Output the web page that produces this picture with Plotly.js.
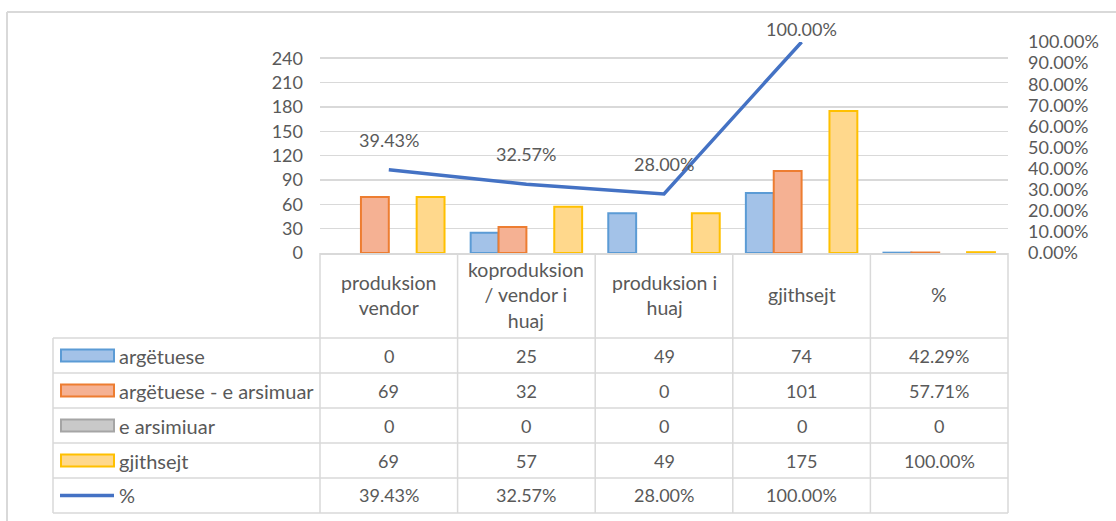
<!DOCTYPE html>
<html>
<head>
<meta charset="utf-8">
<script src="https://cdn.plot.ly/plotly-3.0.1.min.js"></script>
<style>html,body{margin:0;padding:0;background:#fff;}#chart{width:1116px;height:521px;}</style>
</head>
<body>
<div id="chart"></div>
<script>
// ---- data ----
const categories = ['produksion vendor', 'koproduksion / vendor i huaj', 'produksion i huaj', 'gjithsejt', '%'];
const categoryLabels = ['produksion<br>vendor', 'koproduksion<br>/ vendor i<br>huaj', 'produksion i<br>huaj', 'gjithsejt', '%'];
const seriesNames = ['argëtuese', 'argëtuese - e arsimuar', 'e arsimiuar', 'gjithsejt'];
const argetuese = [0, 25, 49, 74, 0.4229];
const argetueseArsimuar = [69, 32, 0, 101, 0.5771];
const eArsimiuar = [0, 0, 0, 0, 0];
const gjithsejt = [69, 57, 49, 175, 1.0];
const lineName = '%';
const percent = [0.3943, 0.3257, 0.28, 1.0, null];
const leftTicks = [0, 30, 60, 90, 120, 150, 180, 210, 240];
const rightTicks = [0, 0.1, 0.2, 0.3, 0.4, 0.5, 0.6, 0.7, 0.8, 0.9, 1.0];

// ---- styling ----
const FONT = 'Lato, "Liberation Sans", Arial, sans-serif';
const TXT = '#595959';
const GRID = '#D9D9D9';
const NUM_SIZE = 18, WORD_SIZE = 20, HEAD_SIZE = 19.5;
const fills = ['#A3C2E8', '#F5B193', '#C9C9C9', '#FFD88C'];
const borders = ['#5B9BD5', '#ED7D31', '#A5A5A5', '#FFC000'];
const lineColor = '#4472C4';

const PL = 320, PT = 42, PW = 688, PH = 211;
const px2x = p => (p - PL) / PW;
const py2y = p => (PT + PH - p) / PH;

const seriesValues = [argetuese, argetueseArsimuar, eArsimiuar, gjithsejt];

const traces = seriesValues.map((vals, i) => ({
  type: 'bar', name: seriesNames[i], x: categories, y: vals,
  marker: {color: fills[i], line: {color: borders[i], width: vals.map(v => v === 0 ? 0 : 2)}},
  hoverinfo: 'skip'
}));
traces.push({
  type: 'scatter', mode: 'lines', name: lineName, x: categories, y: percent, yaxis: 'y2',
  line: {color: lineColor, width: 3.5}, connectgaps: false, hoverinfo: 'skip'
});

const fmtPct = v => (v * 100).toFixed(2) + '%';
const fmtCell = (v, col, isPct) => {
  if (v === null || v === undefined) return '';
  if (isPct || categories[col] === '%') return v === 0 ? '0' : fmtPct(v);
  return String(v);
};

const shapes = [];
const annotations = [];

// outer chart border (top/left)
shapes.push({type: 'line', xref: 'paper', yref: 'paper', x0: px2x(7), x1: px2x(1116), y0: py2y(12), y1: py2y(12), line: {color: GRID, width: 2}});
shapes.push({type: 'line', xref: 'paper', yref: 'paper', x0: px2x(7), x1: px2x(7), y0: py2y(12), y1: py2y(521), line: {color: GRID, width: 2}});

// line data labels
percent.forEach((v, i) => {
  if (v === null) return;
  const ptPx = PT + PH - v * PH;
  const shift = Math.min(30, ptPx - 29);
  annotations.push({x: categories[i], y: v, xref: 'x', yref: 'y2', text: fmtPct(v), showarrow: false,
    yanchor: 'middle', yshift: shift, font: {family: FONT, size: NUM_SIZE, color: TXT}});
});

// data table
const N = categories.length;
const tableLeft = 53, headerBottom = 338, rowH = 35;
const rowsCount = seriesNames.length + 1;
const tableBottom = headerBottom + rowH * rowsCount;
for (let k = 0; k <= N; k++) {
  shapes.push({type: 'line', xref: 'paper', yref: 'paper', x0: k / N, x1: k / N, y0: py2y(PT + PH), y1: py2y(tableBottom), line: {color: GRID, width: 1.5}});
}
shapes.push({type: 'line', xref: 'paper', yref: 'paper', x0: px2x(tableLeft), x1: px2x(tableLeft), y0: py2y(headerBottom), y1: py2y(tableBottom), line: {color: GRID, width: 1.5}});
for (let r = 0; r <= rowsCount; r++) {
  const y = headerBottom + r * rowH;
  shapes.push({type: 'line', xref: 'paper', yref: 'paper', x0: px2x(tableLeft), x1: 1, y0: py2y(y), y1: py2y(y), line: {color: GRID, width: 1.5}});
}
// header labels
categoryLabels.forEach((lab, i) => {
  annotations.push({x: categories[i], xref: 'x', y: py2y((PT + PH + headerBottom) / 2 - 1), yref: 'paper', text: lab, showarrow: false,
    yanchor: 'middle', xanchor: 'center', align: 'center', font: {family: FONT, size: HEAD_SIZE, color: TXT}});
});
// rows
const allRows = seriesValues.concat([percent]);
const allNames = seriesNames.concat([lineName]);
allRows.forEach((vals, r) => {
  const cy = headerBottom + r * rowH + rowH / 2;
  const isPctRow = r === seriesNames.length;
  if (!isPctRow) {
    shapes.push({type: 'rect', xref: 'paper', yref: 'paper', x0: px2x(61), x1: px2x(114), y0: py2y(cy - 6), y1: py2y(cy + 6),
      fillcolor: fills[r], line: {color: borders[r], width: 2}});
  } else {
    shapes.push({type: 'line', xref: 'paper', yref: 'paper', x0: px2x(60), x1: px2x(114), y0: py2y(cy), y1: py2y(cy),
      line: {color: lineColor, width: 3.5}});
  }
  annotations.push({x: px2x(117), xref: 'paper', y: py2y(cy), yref: 'paper', text: allNames[r], showarrow: false,
    xanchor: 'left', yanchor: 'middle', font: {family: FONT, size: WORD_SIZE, color: TXT}});
  vals.forEach((v, c) => {
    const t = fmtCell(v, c, isPctRow);
    if (t === '') return;
    annotations.push({x: categories[c], xref: 'x', y: py2y(cy), yref: 'paper', text: t, showarrow: false,
      xanchor: 'center', yanchor: 'middle', font: {family: FONT, size: NUM_SIZE, color: TXT}});
  });
});

const layout = {
  width: 1116, height: 521,
  margin: {l: PL, r: 1116 - PL - PW, t: PT, b: 521 - PT - PH, pad: 0},
  paper_bgcolor: '#fff', plot_bgcolor: '#fff',
  barmode: 'group', bargap: 0.19, bargroupgap: 0,
  showlegend: false,
  font: {family: FONT, size: NUM_SIZE, color: TXT},
  xaxis: {type: 'category', range: [-0.5, N - 0.5], showticklabels: false, ticks: '', showgrid: false,
    showline: true, linecolor: GRID, linewidth: 1.5, zeroline: false, fixedrange: true},
  yaxis: {range: [0, 260], tickvals: leftTicks, ticktext: leftTicks.map(String), showgrid: true, gridcolor: GRID, gridwidth: 1.5,
    zeroline: false, showline: false, ticks: '', ticklabelstandoff: 16, tickfont: {family: FONT, size: NUM_SIZE, color: TXT}},
  yaxis2: {overlaying: 'y', side: 'right', range: [0, 1], tickvals: rightTicks, ticktext: rightTicks.map(fmtPct),
    showgrid: false, zeroline: false, showline: false, ticks: '', ticklabelstandoff: 19, tickfont: {family: FONT, size: NUM_SIZE, color: TXT}},
  shapes: shapes,
  annotations: annotations
};

Plotly.newPlot('chart', traces, layout, {staticPlot: true, displayModeBar: false});
</script>
</body>
</html>
